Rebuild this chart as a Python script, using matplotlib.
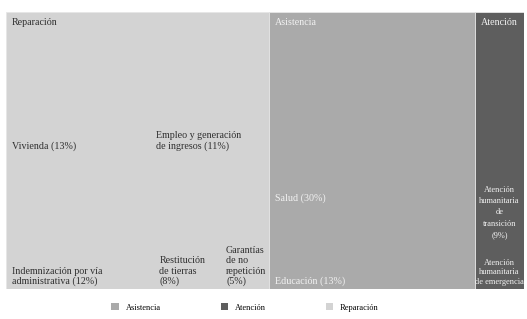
import matplotlib.pyplot as plt
from matplotlib.patches import Rectangle, Patch

# grupos del treemap
groups = ['Reparación', 'Asistencia', 'Atención']
group_colors = ['#d3d3d3', '#aaaaaa', '#5e5e5e']
group_text = ['#2e2e2e', '#f2f2f2', '#f2f2f2']

# componentes (tamaños estimados del área de cada caja)
reparacion_labels = ['Vivienda (13%)', 'Empleo y generación\nde ingresos (11%)',
                     'Indemnización por vía\nadministrativa (12%)',
                     'Restitución\nde tierras\n(8%)', 'Garantías\nde no\nrepetición\n(5%)']
reparacion_sizes = [14.3, 11.8, 14.0, 6.3, 4.6]
reparacion_rows = [0, 0, 1, 1, 1]

asistencia_labels = ['Salud (30%)', 'Educación (13%)']
asistencia_sizes = [28.0, 12.0]
asistencia_rows = [0, 1]

atencion_labels = ['Atención\nhumanitaria\nde\ntransición\n(9%)', 'Atención\nhumanitaria\nde emergencia']
atencion_sizes = [7.9, 1.6]
atencion_rows = [0, 1]

children = [
    (reparacion_labels, reparacion_sizes, reparacion_rows, 'left'),
    (asistencia_labels, asistencia_sizes, asistencia_rows, 'left'),
    (atencion_labels, atencion_sizes, atencion_rows, 'center'),
]

plt.rcParams['font.family'] = ['Liberation Serif', 'DejaVu Serif']

fig = plt.figure(figsize=(5.27, 3.19), dpi=100)
ax = fig.add_axes([6 / 527, 30 / 319, 518 / 527, 277 / 319])
ax.set_xlim(0, 100)
ax.set_ylim(100, 0)
ax.axis('off')

total = sum(sum(c[1]) for c in children)
x0 = 0
for g, (labels, sizes, rows, align) in enumerate(children):
    gw = sum(sizes) / total * 100
    ax.add_patch(Rectangle((x0, 0), gw, 100, facecolor=group_colors[g],
                           edgecolor='#e6e6e6', linewidth=0.6))
    # filas dentro del grupo
    nrows = max(rows) + 1
    y0 = 0
    for r in range(nrows):
        idx = [i for i in range(len(sizes)) if rows[i] == r]
        rsum = sum(sizes[i] for i in idx)
        rh = rsum / sum(sizes) * 100
        cx = x0
        for i in idx:
            cw = sizes[i] / rsum * gw
            if align == 'left':
                ax.text(cx + 1.1, y0 + rh - 1.0, labels[i], ha='left', va='bottom',
                        fontsize=7.2, color=group_text[g], linespacing=1.15)
            else:
                # cajas pequeñas: texto más apretado
                ls = 1.55 if rh > 40 else 1.2
                ax.text(cx + cw / 2, y0 + rh - 1.2, labels[i], ha='center', va='bottom',
                        fontsize=6.0, color=group_text[g], linespacing=ls)
            cx += cw
        y0 += rh
    ax.text(x0 + 1.1, 2.0, groups[g], ha='left', va='top', fontsize=7.2,
            color=group_text[g])
    x0 += gw

handles = [Patch(facecolor=group_colors[i], edgecolor='none') for i in [1, 2, 0]]
fig.legend(handles, [groups[i] for i in [1, 2, 0]], loc='lower center',
           bbox_to_anchor=(0.465, 0.0), ncol=3, frameon=False, fontsize=6,
           handlelength=0.9, handleheight=0.9, columnspacing=7.2, handletextpad=0.8)

fig.savefig('out.png', dpi=100, facecolor='white')
